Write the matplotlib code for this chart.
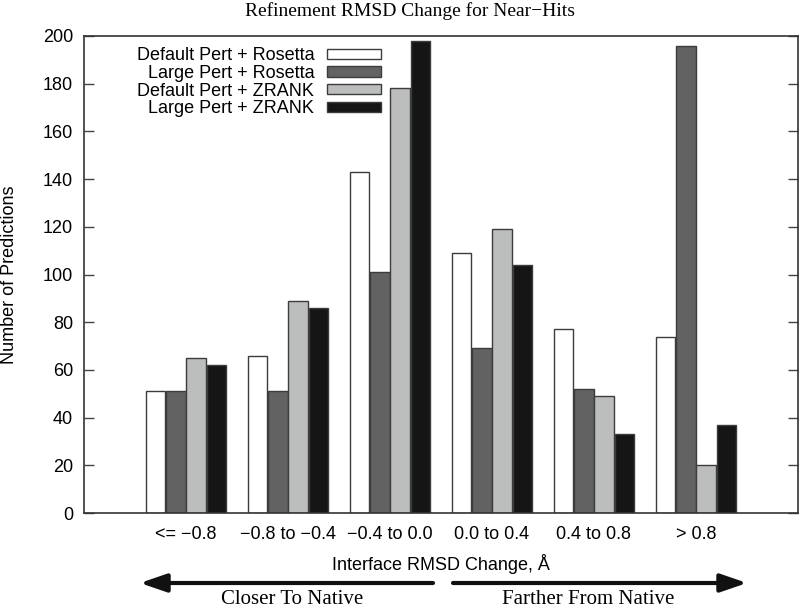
import numpy as np
import matplotlib
matplotlib.use("Agg")
import matplotlib.pyplot as plt
from matplotlib.patches import Patch

plt.rcParams["font.family"] = ["Liberation Sans", "DejaVu Sans"]

categories = ["<= \u22120.8", "\u22120.8 to \u22120.4", "\u22120.4 to 0.0",
              "0.0 to 0.4", "0.4 to 0.8", "> 0.8"]
series_names = ["Default Pert + Rosetta", "Large Pert + Rosetta",
                "Default Pert + ZRANK", "Large Pert + ZRANK"]
default_rosetta = [51, 66, 143, 109, 77, 74]
large_rosetta = [51, 51, 101, 69, 52, 196]
default_zrank = [65, 89, 178, 119, 49, 20]
large_zrank = [62, 86, 198, 104, 33, 37]
colors = ["#ffffff", "#626262", "#bcbebd", "#151515"]


def main():
    fig = plt.figure(figsize=(8.0, 6.09), dpi=100)
    ax = fig.add_axes([0.105, 0.1576, 0.8925, 0.7833])

    x = np.arange(1, len(categories) + 1)
    width = 0.2
    all_series = [default_rosetta, large_rosetta, default_zrank, large_zrank]
    for i, values in enumerate(all_series):
        ax.bar(x + (i - 1.5) * width, values, width=width * 0.97,
               color=colors[i], edgecolor="#3c3c3c", linewidth=1.0,
               label=series_names[i])

    ax.set_xlim(0, 7)
    ax.set_ylim(0, 200)
    ax.set_yticks(range(0, 201, 20))
    ax.set_xticks(x)
    ax.set_xticklabels(categories)

    ax.tick_params(axis="y", direction="in", length=7, width=1.0,
                   right=True, labelsize=13, pad=8, color="#444444")
    ax.tick_params(axis="x", length=0, labelsize=13, pad=9)
    for spine in ax.spines.values():
        spine.set_linewidth(1.2)
        spine.set_color("#333333")

    ax.set_xlabel("Interface RMSD Change, \u00c5", fontsize=13, labelpad=8)
    ax.set_ylabel("Number of Predictions", fontsize=13)
    ax.yaxis.set_label_coords(-0.0924, 0.5)

    handles = [Patch(facecolor=c, edgecolor="#3c3c3c", linewidth=1.0)
               for c in colors]
    ax.legend(handles, series_names, loc="upper right",
              bbox_to_anchor=(0.416, 0.976), frameon=False, markerfirst=False,
              fontsize=13, handlelength=3.0, handleheight=0.5,
              handletextpad=0.7, labelspacing=0.03, borderpad=0,
              borderaxespad=0)

    fig.text(410 / 800, 1 - 11 / 609, "Refinement RMSD Change for Near\u2212Hits",
             ha="center", va="center", fontsize=14, family="Liberation Serif")

    # direction arrows below the axis
    arrow_y = 1 - 583 / 609
    arrow_style = dict(arrowstyle="-|>,head_length=1.6,head_width=0.55",
                       lw=3, color="#111111", shrinkA=0, shrinkB=0)
    ax.annotate("", xy=(140 / 800, arrow_y), xytext=(433 / 800, arrow_y),
                xycoords="figure fraction", textcoords="figure fraction",
                arrowprops=arrow_style, annotation_clip=False)
    ax.annotate("", xy=(747 / 800, arrow_y), xytext=(453 / 800, arrow_y),
                xycoords="figure fraction", textcoords="figure fraction",
                arrowprops=arrow_style, annotation_clip=False)
    fig.text(292 / 800, 1 - 599 / 609, "Closer To Native", ha="center",
             va="center", fontsize=15, family="Liberation Serif")
    fig.text(588 / 800, 1 - 599 / 609, "Farther From Native", ha="center",
             va="center", fontsize=15, family="Liberation Serif")

    fig.savefig("out.png", dpi=100)


if __name__ == "__main__":
    main()
